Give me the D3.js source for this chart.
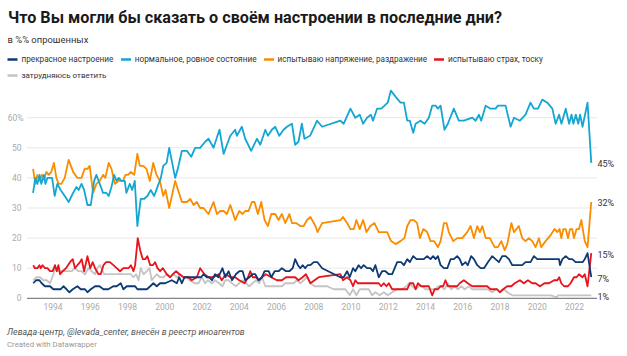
<!DOCTYPE html>
<html><head><meta charset="utf-8">
<script src="https://cdn.jsdelivr.net/npm/d3@7"></script>
<style>
html,body{margin:0;padding:0;background:#fff;}
svg{display:block;font-family:Roboto,"Noto Sans",sans-serif;}
</style></head>
<body><svg id="c" width="627" height="356"></svg>
<script>
const title = "Что Вы могли бы сказать о своём настроении в последние дни?";
const subtitle = "в %% опрошенных";
const source = "Левада-центр, @levada_center, внесён в реестр иноагентов";
const credit = "Created with Datawrapper";
const seriesNames = ["прекрасное настроение","нормальное, ровное состояние","испытываю напряжение, раздражение","испытываю страх, тоску","затрудняюсь ответить"];
const seriesColors = ["#0e3a73","#14a6d2","#fa8c00","#e8141c","#c4c4c4"];
const xTicks = [1994,1996,1998,2000,2002,2004,2006,2008,2010,2012,2014,2016,2018,2020,2022];
const yTicks = [0,10,20,30,40,50,60];
const endLabels = ["7%","45%","32%","15%","1%"];

const great = [[1992.94,5],[1993.09,6],[1993.27,6],[1993.39,5],[1993.57,4],[1993.84,4],[1994.02,3],[1994.16,3],[1994.29,3],[1994.41,3],[1994.56,4],[1994.73,3],[1994.88,2],[1995.06,3],[1995.31,4],[1995.49,3],[1995.72,3],[1995.85,2],[1996.03,3],[1996.26,4],[1996.49,4],[1996.71,3],[1996.97,3],[1997.24,4],[1997.42,4],[1997.64,5],[1997.78,3],[1997.96,4],[1998.23,4],[1998.41,4],[1998.53,3],[1998.77,3],[1999.04,3],[1999.22,4],[1999.39,5],[1999.57,4],[1999.75,5],[2000.02,5],[2000.38,6],[2000.65,5],[2000.77,7],[2000.92,5],[2001.06,7],[2001.37,7],[2001.63,7],[2001.95,7],[2002.08,8],[2002.26,7],[2002.38,7],[2002.53,6],[2002.7,8],[2002.88,7],[2003.1,10],[2003.25,7],[2003.43,9],[2003.61,6],[2003.82,8],[2004.0,9],[2004.18,9],[2004.32,6],[2004.54,7],[2004.72,8],[2004.86,8],[2005.04,6],[2005.22,7],[2005.36,9],[2005.58,9],[2005.72,7],[2005.9,9],[2006.11,9],[2006.29,10],[2006.51,9],[2006.69,9],[2006.87,10],[2007.0,13],[2007.15,11],[2007.28,10],[2007.4,11],[2007.54,10],[2007.67,11],[2007.82,11],[2008.0,12],[2008.2,12],[2008.45,10],[2009.43,7],[2009.61,7],[2009.79,9],[2009.93,7],[2010.11,10],[2010.23,9],[2010.41,11],[2010.54,10],[2010.68,11],[2010.86,10],[2011.04,10],[2011.18,9],[2011.31,11],[2011.49,7],[2011.67,9],[2011.85,9],[2012.03,8],[2012.21,8],[2012.48,12],[2012.69,12],[2012.84,11],[2013.02,13],[2013.16,12],[2013.34,14],[2013.52,13],[2013.64,13],[2013.77,13],[2013.91,13],[2014.09,14],[2014.27,13],[2014.41,14],[2014.54,13],[2014.67,14],[2014.81,11],[2014.99,10],[2015.17,10],[2015.35,13],[2015.52,13],[2015.7,14],[2015.84,13],[2015.97,11],[2016.15,12],[2016.27,11],[2016.45,14],[2016.6,13],[2016.78,11],[2016.96,10],[2017.14,10],[2017.35,12],[2017.58,14],[2017.76,13],[2017.94,12],[2018.12,14],[2018.3,14],[2018.48,13],[2018.66,11],[2018.93,11],[2019.19,11],[2019.37,12],[2019.5,12],[2019.64,12],[2019.82,14],[2020.0,13],[2020.27,13],[2020.54,13],[2020.9,13],[2021.17,13],[2021.22,11],[2021.35,13],[2021.53,14],[2021.71,13],[2021.88,13],[2022.06,12],[2022.24,12],[2022.43,12],[2022.55,13],[2022.7,15],[2022.9,7]];

const normal = [[1992.93,35],[1993.05,40],[1993.16,38],[1993.28,41],[1993.37,38],[1993.52,41],[1993.59,38],[1993.7,40],[1993.82,40],[1993.95,40],[1994.09,34],[1994.23,38],[1994.41,36],[1994.63,34],[1994.84,32],[1995.08,35],[1995.26,37],[1995.38,36],[1995.53,38],[1995.67,36],[1995.85,31],[1996.03,31],[1996.21,39],[1996.33,41],[1996.51,38],[1996.69,35],[1996.87,35],[1996.99,34],[1997.14,37],[1997.28,41],[1997.41,39],[1997.53,40],[1997.67,39],[1997.85,39],[1997.94,35],[1998.12,38],[1998.25,36],[1998.39,39],[1998.53,24],[1998.71,33],[1998.89,33],[1999.07,34],[1999.25,36],[1999.43,34],[1999.61,37],[1999.79,40],[1999.92,44],[2000.1,45],[2000.24,50],[2000.4,45],[2000.56,40],[2000.7,43],[2000.92,49],[2001.19,49],[2001.42,47],[2001.63,50],[2001.9,50],[2002.17,52],[2002.35,53],[2002.62,50],[2002.83,54],[2002.94,56],[2003.16,48],[2003.34,51],[2003.52,54],[2003.78,56],[2003.87,54],[2004.14,57],[2004.32,53],[2004.64,49],[2004.95,53],[2005.13,51],[2005.4,56],[2005.54,54],[2005.75,56],[2005.93,57],[2006.15,54],[2006.38,56],[2006.56,57],[2006.83,58],[2007.0,51],[2007.18,52],[2007.36,58],[2007.5,53],[2007.8,54],[2008.18,59],[2008.45,57],[2009.43,59],[2009.61,58],[2009.97,63],[2010.23,60],[2010.47,61],[2010.65,58],[2010.86,60],[2011.07,61],[2011.18,59],[2011.4,63],[2011.62,63],[2011.8,64],[2011.97,65],[2012.14,69],[2012.39,67],[2012.66,65],[2012.84,65],[2013.02,59],[2013.16,59],[2013.34,55],[2013.47,58],[2013.73,59],[2013.95,58],[2014.18,60],[2014.36,64],[2014.54,64],[2014.67,63],[2014.81,64],[2015.02,56],[2015.2,58],[2015.52,63],[2015.79,59],[2016.06,59],[2016.51,60],[2016.69,59],[2016.87,61],[2016.99,59],[2017.23,64],[2017.5,63],[2017.76,63],[2017.89,64],[2018.12,64],[2018.3,64],[2018.57,57],[2018.75,60],[2019.07,59],[2019.37,61],[2019.64,65],[2019.82,63],[2020.04,63],[2020.27,66],[2020.54,65],[2020.81,63],[2020.99,58],[2021.17,61],[2021.3,58],[2021.53,63],[2021.71,58],[2021.84,61],[2021.94,58],[2022.07,61],[2022.2,58],[2022.3,61],[2022.43,57],[2022.7,65],[2022.9,45]];

const tense = [[1992.93,43],[1993.05,38],[1993.16,41],[1993.28,39],[1993.41,41],[1993.55,40],[1993.64,42],[1993.77,41],[1993.91,42],[1994.05,45],[1994.18,40],[1994.3,38],[1994.45,38],[1994.63,40],[1994.84,46],[1995.08,42],[1995.31,40],[1995.53,40],[1995.7,43],[1995.85,43],[1995.97,44],[1996.15,35],[1996.33,38],[1996.51,39],[1996.69,41],[1996.81,40],[1996.99,45],[1997.14,43],[1997.32,38],[1997.53,39],[1997.76,39],[1997.89,41],[1998.03,41],[1998.18,42],[1998.36,41],[1998.53,48],[1998.66,44],[1998.84,44],[1999.02,43],[1999.2,39],[1999.38,45],[1999.56,41],[1999.74,39],[1999.92,34],[2000.04,36],[2000.24,30],[2000.56,39],[2000.92,32],[2001.19,32],[2001.37,33],[2001.55,31],[2001.72,32],[2001.9,30],[2002.08,30],[2002.35,28],[2002.62,32],[2002.8,28],[2002.98,29],[2003.16,29],[2003.34,28],[2003.52,31],[2003.78,26],[2004.0,29],[2004.18,28],[2004.32,29],[2004.5,29],[2004.68,32],[2004.82,32],[2005.0,28],[2005.18,32],[2005.36,26],[2005.54,24],[2005.72,28],[2005.93,28],[2006.11,26],[2006.29,28],[2006.47,25],[2006.69,28],[2006.83,25],[2007.05,25],[2007.28,24],[2007.46,24],[2007.64,26],[2007.82,27],[2008.09,24],[2008.2,22],[2008.45,25],[2009.43,26],[2009.57,27],[2009.79,25],[2009.97,23],[2010.15,23],[2010.29,26],[2010.47,23],[2010.65,26],[2010.83,22],[2011.04,24],[2011.26,25],[2011.49,22],[2011.76,22],[2011.94,22],[2012.15,19],[2012.39,18],[2012.66,19],[2012.87,20],[2013.02,24],[2013.2,26],[2013.38,26],[2013.55,25],[2013.7,20],[2013.88,23],[2014.09,22],[2014.27,19],[2014.45,19],[2014.67,17],[2014.81,19],[2014.99,25],[2015.13,25],[2015.25,22],[2015.49,19],[2015.7,20],[2015.97,20],[2016.24,22],[2016.42,24],[2016.6,20],[2016.78,24],[2016.92,22],[2017.05,24],[2017.23,20],[2017.46,20],[2017.71,17],[2017.89,17],[2018.07,19],[2018.25,16],[2018.39,18],[2018.61,25],[2018.75,22],[2019.01,24],[2019.19,20],[2019.37,19],[2019.55,20],[2019.73,19],[2019.91,17],[2020.09,20],[2020.21,17],[2020.45,19],[2020.72,21],[2020.93,23],[2021.08,22],[2021.2,23],[2021.29,20],[2021.4,23],[2021.53,23],[2021.65,20],[2021.76,23],[2021.88,23],[2021.97,20],[2022.11,23],[2022.24,23],[2022.37,26],[2022.55,19],[2022.7,17],[2022.9,32]];

const fear = [[1992.94,11],[1993.03,10],[1993.16,10],[1993.27,11],[1993.34,10],[1993.44,11],[1993.57,10],[1993.7,10],[1993.84,9],[1993.98,9],[1994.11,11],[1994.2,9],[1994.29,11],[1994.38,8],[1994.52,9],[1994.7,10],[1994.91,12],[1995.06,13],[1995.18,10],[1995.31,11],[1995.45,12],[1995.54,13],[1995.67,9],[1995.85,14],[1996.0,10],[1996.13,12],[1996.26,10],[1996.44,8],[1996.56,8],[1996.71,11],[1996.85,12],[1997.06,12],[1997.24,11],[1997.42,10],[1997.6,9],[1997.78,10],[1997.92,10],[1998.05,10],[1998.18,11],[1998.32,9],[1998.41,11],[1998.55,20],[1998.68,16],[1998.82,13],[1998.95,13],[1999.07,14],[1999.22,11],[1999.36,11],[1999.48,12],[1999.61,10],[1999.75,9],[1999.9,10],[2000.11,8],[2000.29,7],[2000.43,8],[2000.61,9],[2000.79,8],[2001.01,7],[2001.28,7],[2001.45,6],[2001.72,7],[2001.9,10],[2002.13,8],[2002.35,7],[2002.62,7],[2002.88,8],[2003.06,6],[2003.28,8],[2003.52,7],[2003.78,7],[2004.0,6],[2004.29,5],[2004.47,7],[2004.59,9],[2004.72,7],[2004.9,7],[2005.04,6],[2005.22,7],[2005.43,8],[2005.72,7],[2006.02,6],[2006.29,6],[2006.51,7],[2006.74,7],[2007.0,7],[2007.18,6],[2007.4,7],[2007.58,8],[2007.82,5],[2008.04,6],[2008.27,7],[2009.43,8],[2009.57,6],[2009.79,7],[2009.97,6],[2010.11,4],[2010.23,6],[2010.36,5],[2010.54,5],[2010.86,5],[2011.13,5],[2011.26,5],[2011.49,5],[2011.62,4],[2011.76,5],[2011.9,4],[2012.03,5],[2012.21,3],[2012.48,3],[2012.84,3],[2013.02,3],[2013.16,5],[2013.34,5],[2013.47,3],[2013.59,5],[2013.77,4],[2014.0,4],[2014.18,4],[2014.36,1],[2014.49,3],[2014.67,3],[2014.81,4],[2014.95,4],[2015.07,6],[2015.2,4],[2015.43,4],[2015.7,4],[2015.84,5],[2016.06,6],[2016.27,5],[2016.51,4],[2016.69,4],[2016.87,4],[2017.1,4],[2017.31,4],[2017.49,3],[2017.67,3],[2017.85,3],[2017.99,2],[2018.17,3],[2018.39,4],[2018.61,4],[2018.79,5],[2019.07,6],[2019.28,5],[2019.5,6],[2019.73,5],[2019.91,5],[2020.14,4],[2020.39,5],[2020.63,5],[2020.9,6],[2021.08,6],[2021.18,7],[2021.29,5],[2021.44,4],[2021.65,4],[2021.79,5],[2021.97,7],[2022.11,7],[2022.24,8],[2022.43,7],[2022.55,8],[2022.7,4],[2022.9,15]];

const unsure = [[1992.94,6],[1993.12,7],[1993.3,7],[1993.48,6],[1993.66,6],[1993.84,5],[1994.02,8],[1994.1,10],[1994.29,9],[1994.47,9],[1994.65,9],[1994.82,9],[1995.0,9],[1995.18,10],[1995.36,9],[1995.54,9],[1995.72,8],[1995.9,10],[1996.08,9],[1996.26,8],[1996.38,10],[1996.53,11],[1996.74,8],[1996.89,8],[1997.06,8],[1997.24,8],[1997.42,8],[1997.64,8],[1997.82,8],[1998.0,8],[1998.18,8],[1998.32,7],[1998.46,8],[1998.59,6],[1998.71,10],[1998.86,8],[1999.04,9],[1999.18,10],[1999.3,6],[1999.43,7],[1999.57,8],[1999.75,7],[1999.93,7],[2000.11,8],[2000.29,7],[2000.47,8],[2000.65,7],[2000.83,8],[2001.0,7],[2001.19,7],[2001.31,6],[2001.6,5],[2001.81,5],[2001.99,7],[2002.17,5],[2002.31,6],[2002.53,5],[2002.7,6],[2002.92,5],[2003.1,4],[2003.25,6],[2003.43,6],[2003.61,5],[2003.82,4],[2004.0,5],[2004.18,6],[2004.36,5],[2004.54,4],[2004.72,5],[2004.9,6],[2005.08,5],[2005.22,7],[2005.4,4],[2005.58,4],[2005.75,4],[2006.02,4],[2006.29,4],[2006.47,5],[2006.69,5],[2006.92,5],[2007.09,6],[2007.28,5],[2007.46,6],[2007.64,7],[2007.82,5],[2008.04,4],[2008.27,4],[2008.45,4],[2008.72,4],[2009.07,3],[2009.43,3],[2009.7,3],[2009.93,1],[2010.11,3],[2010.29,1],[2010.47,3],[2010.72,3],[2010.95,3],[2011.13,1],[2011.31,2],[2011.54,1],[2011.76,2],[2011.97,1],[2012.21,2],[2012.48,3],[2012.75,3],[2012.98,4],[2013.11,5],[2013.29,4],[2013.47,3],[2013.64,4],[2013.82,4],[2014.0,3],[2014.18,3],[2014.36,3],[2014.54,3],[2014.67,4],[2014.81,4],[2015.02,3],[2015.2,5],[2015.38,3],[2015.56,4],[2015.74,3],[2015.92,4],[2016.1,3],[2016.33,4],[2016.51,3],[2016.78,3],[2017.05,3],[2017.31,3],[2017.58,2],[2017.81,3],[2017.99,2],[2018.21,3],[2018.39,2],[2018.66,1],[2019.1,1],[2019.64,1],[2020.18,1],[2020.72,1],[2020.99,0.5],[2021.08,0.5],[2021.11,1],[2021.62,1],[2022.34,1],[2022.9,1]];

const allSeries = [great, normal, tense, fear, unsure];

const svg = d3.select("#c");
const x = d3.scaleLinear().domain([1994, 2022]).range([53, 574.5]);
const y = d3.scaleLinear().domain([0, 60]).range([298.3, 117.7]);
const gridX0 = 27, gridX1 = 597;

function fit(sel, target) {
  const w = sel.node().getComputedTextLength();
  const fs = parseFloat(sel.attr("font-size"));
  sel.attr("font-size", (fs * target / w).toFixed(2));
  return sel;
}

// Title
fit(svg.append("text").attr("x", 8).attr("y", 23).attr("font-size", 18)
  .attr("font-weight", 700).attr("fill", "#1a1a1a").text(title), 494);
fit(svg.append("text").attr("x", 7.5).attr("y", 42.5).attr("font-size", 11)
  .attr("fill", "#333").text(subtitle), 81);

// Legend
const legendItems = [
  {i:0, x:7.5, y:59.5, tx:21.5, w:92},
  {i:1, x:121, y:59.5, tx:134.7, w:122},
  {i:2, x:264, y:59.5, tx:277.5, w:150},
  {i:3, x:434, y:59.5, tx:448, w:95},
  {i:4, x:7.5, y:75.5, tx:21.5, w:85}
];
const lg = svg.append("g");
legendItems.forEach(d => {
  lg.append("line").attr("x1", d.x).attr("x2", d.x + 10).attr("y1", d.y).attr("y2", d.y)
    .attr("stroke", seriesColors[d.i]).attr("stroke-width", 2.5);
  fit(lg.append("text").attr("x", d.tx).attr("y", d.y).attr("dy", "0.35em")
    .attr("font-size", 10).attr("fill", "#333").text(seriesNames[d.i]), d.w);
});

// Grid
const grid = svg.append("g");
grid.selectAll("line").data(yTicks.filter(v => v > 0)).join("line")
  .attr("x1", gridX0).attr("x2", gridX1)
  .attr("y1", d => y(d)).attr("y2", d => y(d))
  .attr("stroke", "#e8e8e8").attr("stroke-width", 1);

// Y labels
svg.append("g").selectAll("text").data(yTicks.filter(v => v > 0)).join("text")
  .attr("x", d => d === 60 ? 23.5 : 21.5).attr("y", d => y(d)).attr("dy", "0.35em")
  .attr("text-anchor", "end").attr("font-size", 8.5).attr("fill", "#aaa")
  .text(d => d === 60 ? d + "%" : d);
svg.append("text").attr("x", 21.5).attr("y", y(0)).attr("dy", "0.35em")
  .attr("text-anchor", "end").attr("font-size", 8.5).attr("fill", "#aaa").text("0");

// X axis labels
svg.append("g").selectAll("text").data(xTicks).join("text")
  .attr("x", d => x(d)).attr("y", 307).attr("dy", "0.35em")
  .attr("text-anchor", "middle").attr("font-size", 8.5).attr("fill", "#aaa")
  .text(d => d);

// Lines
const line = d3.line().x(d => x(d[0])).y(d => y(d[1]));
const order = [4, 2, 1, 3, 0];
svg.append("g").selectAll("path").data(order).join("path")
  .attr("d", i => line(allSeries[i]))
  .attr("fill", "none").attr("stroke", i => seriesColors[i])
  .attr("stroke-width", 1.8).attr("stroke-linejoin", "round");

// Zero baseline
svg.append("line").attr("x1", gridX0).attr("x2", gridX1)
  .attr("y1", y(0)).attr("y2", y(0)).attr("stroke", "#666").attr("stroke-width", 1);

// End labels
const endY = [278.5, 164, 203, 255, 296.5];
svg.append("g").selectAll("text").data(endLabels).join("text")
  .attr("x", 597.5).attr("y", (d, i) => endY[i]).attr("dy", "0.35em")
  .attr("font-size", 9).attr("fill", "#333").text(d => d);

// Footer
fit(svg.append("text").attr("x", 7).attr("y", 331.5).attr("dy", "0.35em")
  .attr("font-size", 10).attr("font-style", "italic").attr("fill", "#555").text(source), 238);
fit(svg.append("text").attr("x", 7).attr("y", 344.5).attr("dy", "0.35em")
  .attr("font-size", 9).attr("fill", "#999").text(credit), 90);
</script></body></html>
